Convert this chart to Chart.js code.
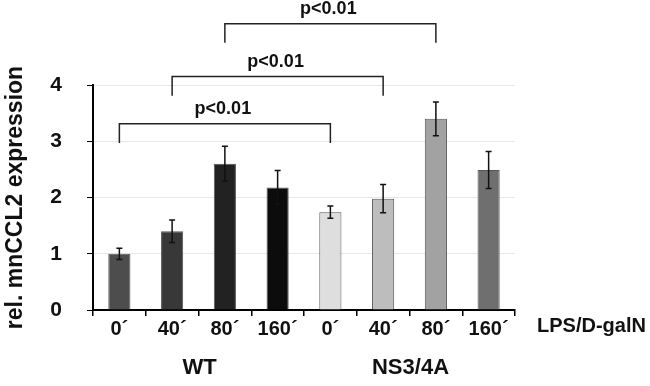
<!DOCTYPE html>
<html lang="en">
<head>
<meta charset="UTF-8">
<title>rel. mnCCL2 expression</title>
<script src="https://cdn.jsdelivr.net/npm/chart.js"></script>
<style>
  html, body { margin: 0; padding: 0; background: #fff; }
  #wrap { position: relative; width: 650px; height: 386px; }
</style>
</head>
<body>
<div id="wrap"><canvas id="chart"></canvas></div>
<script>
const timepoints = ['0´', '40´', '80´', '160´', '0´', '40´', '80´', '160´'];
const expression = [1.0, 1.4, 2.6, 2.18, 1.74, 1.98, 3.4, 2.49];
const errors     = [0.1, 0.2, 0.31, 0.3, 0.11, 0.25, 0.3, 0.33];
const barColors  = ['#4d4d4d', '#383838', '#222222', '#0c0c0c', '#dedede', '#bdbdbd', '#a2a2a2', '#6f6f6f'];
const groups = [
    { name: 'WT', from: 0, to: 3 },
    { name: 'NS3/4A', from: 4, to: 7 }
];
const treatment = 'LPS/D-galN';
const yTicks = [0, 1, 2, 3, 4];
// significance brackets (heights in y units)
const brackets = [
    { from: 0, to: 4, top: 3.31, leg: 2.97, label: 'p<0.01' },
    { from: 1, to: 5, top: 4.15, leg: 3.81, label: 'p<0.01' },
    { from: 2, to: 6, top: 5.09, leg: 4.75, label: 'p<0.01' }
];

const FONT = '"Liberation Sans", Arial, sans-serif';

const extras = {
    id: 'extras',
    afterDatasetsDraw(chart) {
        const ctx = chart.ctx;
        const x = chart.scales.x, y = chart.scales.y;
        ctx.save();
        // error bars
        ctx.strokeStyle = '#111';
        ctx.lineWidth = 1.5;
        expression.forEach((v, i) => {
            const cx = x.getPixelForValue(i);
            const yt = y.getPixelForValue(v + errors[i]);
            const yb = y.getPixelForValue(v - errors[i]);
            ctx.beginPath();
            ctx.moveTo(cx, yt); ctx.lineTo(cx, yb);
            ctx.moveTo(cx - 3, yt); ctx.lineTo(cx + 3, yt);
            ctx.moveTo(cx - 3, yb); ctx.lineTo(cx + 3, yb);
            ctx.stroke();
        });
        // brackets
        ctx.strokeStyle = '#222';
        ctx.lineWidth = 1.5;
        ctx.fillStyle = '#111';
        ctx.font = 'bold 18px ' + FONT;
        ctx.textAlign = 'center';
        ctx.textBaseline = 'alphabetic';
        brackets.forEach(b => {
            const x1 = x.getPixelForValue(b.from);
            const x2 = x.getPixelForValue(b.to);
            const yt = y.getPixelForValue(b.top);
            const yl = y.getPixelForValue(b.leg);
            ctx.beginPath();
            ctx.moveTo(x1, yl); ctx.lineTo(x1, yt); ctx.lineTo(x2, yt); ctx.lineTo(x2, yl);
            ctx.stroke();
            ctx.fillText(b.label, (x1 + x2) / 2 - 2, yt - 10);
        });
        // treatment label and group names
        ctx.font = 'bold 20px ' + FONT;
        ctx.textAlign = 'left';
        ctx.fillText(treatment, chart.chartArea.right + 22, x.top + 22);
        ctx.textAlign = 'center';
        ctx.textBaseline = 'middle';
        ctx.font = 'bold 22px ' + FONT;
        groups.forEach(g => {
            const cx = (x.getPixelForValue(g.from) + x.getPixelForValue(g.to)) / 2;
            ctx.fillText(g.name, cx + 1, x.top + 58);
        });
        ctx.restore();
    }
};

new Chart(document.getElementById('chart'), {
    type: 'bar',
    data: {
        labels: timepoints,
        datasets: [{
            data: expression,
            backgroundColor: barColors,
            borderColor: '#555',
            borderWidth: 1,
            categoryPercentage: 1,
            barPercentage: 0.42
        }]
    },
    options: {
        responsive: true,
        maintainAspectRatio: false,
        animation: false,
        layout: { padding: { top: 85, right: 135, left: 0, bottom: 0 } },
        plugins: { legend: { display: false }, tooltip: { enabled: false } },
        scales: {
            x: {
                afterFit: s => { s.height = 76; },
                grid: { drawOnChartArea: false, tickLength: 6, tickColor: '#000', lineWidth: 1.5 },
                border: { color: '#000', width: 2 },
                ticks: { color: '#111', padding: 1, font: { family: FONT, size: 20, weight: 'bold' } }
            },
            y: {
                min: 0,
                max: 4,
                afterFit: s => { s.width = 93; },
                afterBuildTicks: s => { s.ticks = yTicks.map(v => ({ value: v })); },
                grid: { color: '#e6e6e6', tickColor: '#000', tickLength: 6, lineWidth: 1 },
                border: { color: '#000', width: 2 },
                ticks: { color: '#111', padding: 25, font: { family: FONT, size: 21, weight: 'bold' } },
                title: {
                    display: true,
                    text: 'rel. mnCCL2 expression',
                    color: '#111',
                    padding: { top: 2, bottom: 0 },
                    font: { family: FONT, size: 23, weight: 'bold' }
                }
            }
        }
    },
    plugins: [extras]
});
</script>
</body>
</html>
